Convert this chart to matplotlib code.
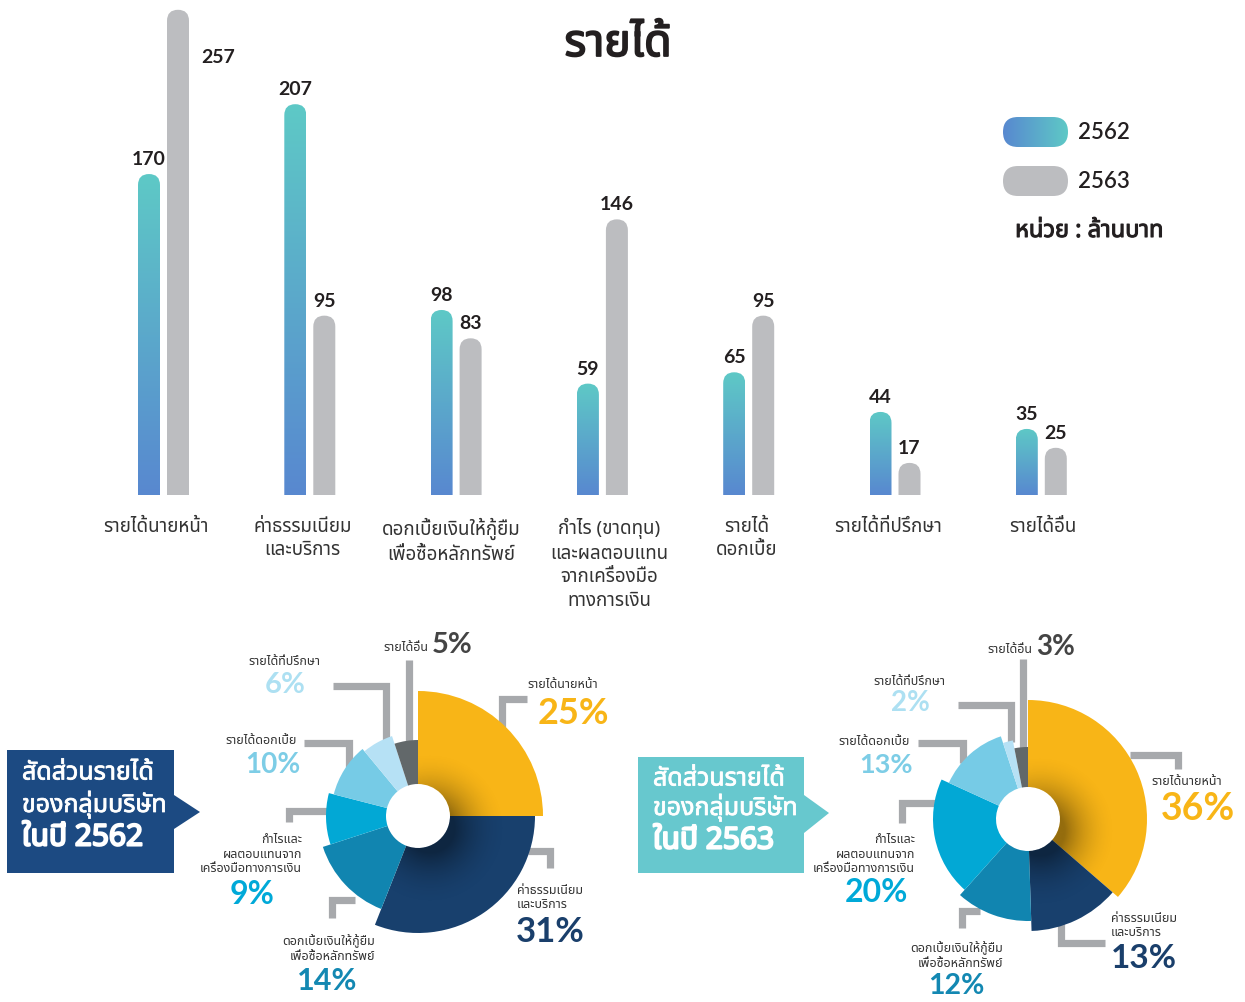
import os
import numpy as np
import matplotlib
matplotlib.use('Agg')
import matplotlib.pyplot as plt
import matplotlib.patheffects as pe
from matplotlib import font_manager
from matplotlib.font_manager import FontProperties
from matplotlib.ft2font import FT2Font
from matplotlib.patches import FancyBboxPatch, Wedge, Polygon
from matplotlib.colors import LinearSegmentedColormap

# ---- data ----
categories = ['รายได้นายหน้า', 'ค่าธรรมเนียม\nและบริการ',
              'ดอกเบี้ยเงินให้กู้ยืม\nเพื่อซื้อหลักทรัพย์',
              'กำไร (ขาดทุน)\nและผลตอบแทน\nจากเครื่องมือ\nทางการเงิน',
              'รายได้\nดอกเบี้ย', 'รายได้ที่ปรึกษา', 'รายได้อื่น']
v2562 = [170, 207, 98, 59, 65, 44, 35]
v2563 = [257, 95, 83, 146, 95, 17, 25]
years = ['2562', '2563']

pie_names = ['รายได้นายหน้า', 'ค่าธรรมเนียม\nและบริการ',
             'ดอกเบี้ยเงินให้กู้ยืม\nเพื่อซื้อหลักทรัพย์',
             'กำไรและ\nผลตอบแทนจาก\nเครื่องมือทางการเงิน',
             'รายได้ดอกเบี้ย', 'รายได้ที่ปรึกษา', 'รายได้อื่น']
share_2562 = [25, 31, 14, 9, 10, 6, 5]
share_2563 = [36, 13, 12, 20, 13, 2, 3]


# ---- fonts ----
def find_thai():
    prefer = ['Noto Sans Thai', 'Noto Sans Thai UI', 'Sarabun', 'Kanit', 'Prompt',
              'Loma', 'Garuda', 'Tlwg Typo', 'Waree', 'Norasi', 'Kinnari']
    found = []
    for f in font_manager.fontManager.ttflist:
        try:
            if 0x0E01 in FT2Font(f.fname).get_charmap():
                found.append(f.name)
        except Exception:
            pass
    for p in prefer:
        if p in found:
            return p
    return found[0] if found else None


def real_bold(fam):
    try:
        fn = font_manager.findfont(FontProperties(family=fam, weight='bold'),
                                   fallback_to_default=False)
        return 'bold' in os.path.basename(fn).lower()
    except Exception:
        return False


thai = find_thai()
plt.rcParams['font.family'] = ([thai] if thai else []) + ['DejaVu Sans']
has_bold = real_bold(thai) if thai else False

NUMF = 'DejaVu Sans'
for cand in ['Lato', 'Roboto', 'Open Sans', 'Noto Sans', 'Liberation Sans']:
    if real_bold(cand):
        NUMF = cand
        break


def tbold(size, color, k=0.045):
    # Thai bold: real weight when there is one, otherwise a thin stroke
    if has_bold:
        return {'fontweight': 'bold'}
    return {'path_effects': [pe.withStroke(linewidth=size * k, foreground=color)]}


W, H = 1245, 1002
fig = plt.figure(figsize=(W / 100, H / 100), dpi=100)
fig.patch.set_facecolor('white')

BLUE_TOP = '#5ec9c6'
BLUE_BOT = '#5888d0'
GRAY = '#bcbdc0'
TXT = '#231f20'


def gradient_in(ax, patch, extent, c0, c1, horizontal=False, z=2):
    cmap = LinearSegmentedColormap.from_list('g', [c0, c1])
    g = np.linspace(0, 1, 256)
    g = g.reshape(1, -1) if horizontal else g.reshape(-1, 1)
    im = ax.imshow(g, cmap=cmap, extent=extent, origin='lower', aspect='auto',
                   interpolation='bicubic', zorder=z)
    im.set_clip_path(patch)


# ---- bar chart ----
px_unit = 146.3
x0_px = 163.5
bottom_px = 495
px_val = 1.888
ax = fig.add_axes([0, (H - bottom_px) / H, 1, bottom_px / H])
xl = (-x0_px / px_unit, (W - x0_px) / px_unit)
yl = (0, bottom_px / px_val)
bw = 22 / px_unit
off = 14.5 / px_unit
aspect = (1 / px_val) / (1 / px_unit)
label_shift = [-8, -7, -5, 7, -2, -7, 2]   # small nudges of the category labels, px

x = np.arange(len(categories))
for i in x:
    for k, (vals, col) in enumerate([(v2562, None), (v2563, GRAY)]):
        v = vals[i]
        xc = i - off if k == 0 else i + off
        rr = bw / 2 * aspect
        p = FancyBboxPatch((xc - bw / 2, -rr), bw, v + rr,
                           boxstyle=f'round,pad=0,rounding_size={bw / 2}',
                           mutation_aspect=aspect, lw=0,
                           fc=(col if col else 'none'), zorder=2)
        ax.add_patch(p)
        if col is None:
            gradient_in(ax, p, (xc - bw / 2, xc + bw / 2, 0, v), BLUE_BOT, BLUE_TOP)
        if k == 1 and i == 0:
            ax.annotate(str(v), (xc, v), xytext=(40, -48), textcoords='offset pixels',
                        ha='center', va='center', fontsize=14, fontweight='bold',
                        family=NUMF, color=TXT)
        else:
            ax.annotate(str(v), (xc, v), xytext=(0, 6), textcoords='offset pixels',
                        ha='center', va='bottom', fontsize=14, fontweight='bold',
                        family=NUMF, color=TXT)
    ax.text(i + label_shift[i] / px_unit, -12, categories[i], ha='center', va='top',
            fontsize=13.5, color='#333333', linespacing=1.41)
ax.set_xlim(*xl)
ax.set_ylim(*yl)
ax.axis('off')

# ---- overlay in pixel coords (y measured from top) ----
ov = fig.add_axes([0, 0, 1, 1], zorder=3)
ov.set_xlim(0, W)
ov.set_ylim(0, H)
ov.axis('off')
ov.patch.set_alpha(0)


def Y(py):
    return H - py


ov.text(618, Y(45), 'รายได้', ha='center', va='center', fontsize=32,
        color=TXT, **tbold(32, TXT, 0.04))

# legend
p1 = FancyBboxPatch((1003, Y(147)), 65, 30, boxstyle='round,pad=0,rounding_size=15',
                    lw=0, fc='none')
ov.add_patch(p1)
gradient_in(ov, p1, (1003, 1068, Y(147), Y(117)), BLUE_BOT, BLUE_TOP, horizontal=True)
p2 = FancyBboxPatch((1003, Y(196)), 65, 30, boxstyle='round,pad=0,rounding_size=15',
                    lw=0, fc=GRAY)
ov.add_patch(p2)
ov.text(1078, Y(132), years[0], ha='left', va='center', fontsize=16, color=TXT,
        family=NUMF, fontweight='semibold')
ov.text(1078, Y(181), years[1], ha='left', va='center', fontsize=16, color=TXT,
        family=NUMF, fontweight='semibold')
ov.text(1089, Y(231), 'หน่วย : ล้านบาท', ha='center', va='center', fontsize=17,
        color=TXT, **tbold(17, TXT, 0.045))

# ---- pies ----
wedge_cols = ['#f8b517', '#18406d', '#1185b0', '#02a8d5', '#76cbe6', '#b6e1f5', '#62686a']
pct_cols = ['#f8b517', '#1a3f6b', '#1388b2', '#00a9d8', '#7dcde6', '#ade0f2', '#444444']
LEAD = '#a7a9ac'
HOLE = 32


def shadow(wedge, cx, cy):
    n = 300
    r1 = 78
    sx, sy = cx + 12, cy - 12
    xs = np.linspace(sx - r1, sx + r1, n)
    ys = np.linspace(sy - r1, sy + r1, n)
    X, Yg = np.meshgrid(xs, ys)
    R = np.hypot(X - sx, Yg - sy)
    a = np.clip((r1 - R) / (r1 - 25), 0, 1) ** 2 * 0.4
    rgba = np.zeros((n, n, 4))
    rgba[..., 3] = a
    im = ov.imshow(rgba, extent=(sx - r1, sx + r1, sy - r1, sy + r1), origin='lower',
                   aspect='auto', zorder=2.5)
    im.set_clip_path(wedge)


def draw_pie(cx, cy, shares, radii, leads, labels):
    cy = Y(cy)
    total = float(sum(shares))
    ang = 90.0
    for j, s in enumerate(shares):
        a2 = ang
        a1 = ang - s / total * 360
        w = Wedge((cx, cy), radii[j], a1, a2, width=radii[j] - HOLE,
                  fc=wedge_cols[j], ec='none', zorder=2)
        ov.add_patch(w)
        if j in (0, 1):
            shadow(w, cx, cy)
        ang = a1
    for pts in leads:
        xs = [p[0] for p in pts]
        ys = [Y(p[1]) for p in pts]
        ov.plot(xs, ys, color=LEAD, lw=5.2, solid_capstyle='butt',
                solid_joinstyle='miter', zorder=1)
    for j, (nx, ny, nha, px, py, pha, pfs) in enumerate(labels):
        nm = pie_names[j]
        ov.text(nx, Y(ny), nm, ha=nha, va='bottom', fontsize=9, color='#333333',
                linespacing=1.15, multialignment=nha)
        ov.text(px, Y(py), f'{shares[j]}%', ha=pha, va='center', fontsize=pfs,
                fontweight='bold', family=NUMF, color=pct_cols[j])


# left pie (2562)
draw_pie(418, 816, share_2562, [125, 117, 100, 92, 87, 84, 76],
         [[(409, 660), (409, 742)],
          [(333, 686), (386, 686), (386, 745)],
          [(304, 743), (349, 743), (349, 767)],
          [(289, 822), (289, 811), (327, 811)],
          [(332, 918), (332, 900), (355, 900)],
          [(528, 851), (550, 851), (550, 868)],
          [(527, 699), (502, 699), (502, 727)]],
         [(527, 691, 'left', 573, 713, 'center', 26),
          (517, 911, 'left', 516, 932, 'left', 25),
          (375, 963, 'right', 327, 981, 'center', 22),
          (302, 875, 'right', 252, 894, 'center', 23),
          (297, 747, 'right', 273, 765, 'center', 20),
          (320, 668, 'right', 285, 685, 'center', 21),
          (428, 654, 'right', 432, 645, 'left', 21)])

# right pie (2563)
draw_pie(1028, 819, share_2563, [119, 112, 102, 95, 87, 80, 72],
         [[(1023, 659), (1023, 750)],
          [(958, 705), (1011, 705), (1011, 742)],
          [(918, 743), (963, 743), (963, 763)],
          [(902, 823), (902, 803), (937, 803)],
          [(962, 928), (962, 911), (980, 911)],
          [(1061, 923), (1061, 943), (1105, 943)],
          [(1130, 755), (1178, 755), (1178, 769)]],
         [(1151, 788, 'left', 1198, 809, 'center', 27),
          (1111, 939, 'left', 1111, 959, 'left', 24),
          (1003, 970, 'right', 956, 986, 'center', 20.5),
          (915, 875, 'right', 876, 893, 'center', 23),
          (910, 748, 'right', 886, 765, 'center', 19.5),
          (945, 688, 'right', 910, 703, 'center', 20),
          (1032, 656, 'right', 1036, 647, 'left', 20)])

# ---- call-out boxes ----
ov.add_patch(Polygon([(7, Y(750)), (174, Y(750)), (174, Y(795)), (200, Y(812)),
                      (174, Y(829)), (174, Y(873)), (7, Y(873))],
                     closed=True, fc='#1c4a82', ec='none', zorder=2))
ov.add_patch(Polygon([(638, Y(757)), (804, Y(757)), (804, Y(795)), (829, Y(813)),
                      (804, Y(833)), (804, Y(873)), (638, Y(873))],
                     closed=True, fc='#67c8ce', ec='none', zorder=2))
for bx, ys, yr in [(22, (773, 805, 838), years[0]), (653, (779, 808, 841), years[1])]:
    ov.text(bx, Y(ys[0]), 'สัดส่วนรายได้', ha='left', va='center', fontsize=18,
            color='white', zorder=4, **tbold(18, 'white', 0.03))
    ov.text(bx, Y(ys[1]), 'ของกลุ่มบริษัท', ha='left', va='center', fontsize=18,
            color='white', zorder=4, **tbold(18, 'white', 0.03))
    ov.text(bx, Y(ys[2]), f'ในปี {yr}', ha='left', va='center', fontsize=21.5,
            color='white', zorder=4, **tbold(21.5, 'white', 0.07))

fig.savefig('out.png', dpi=100)
